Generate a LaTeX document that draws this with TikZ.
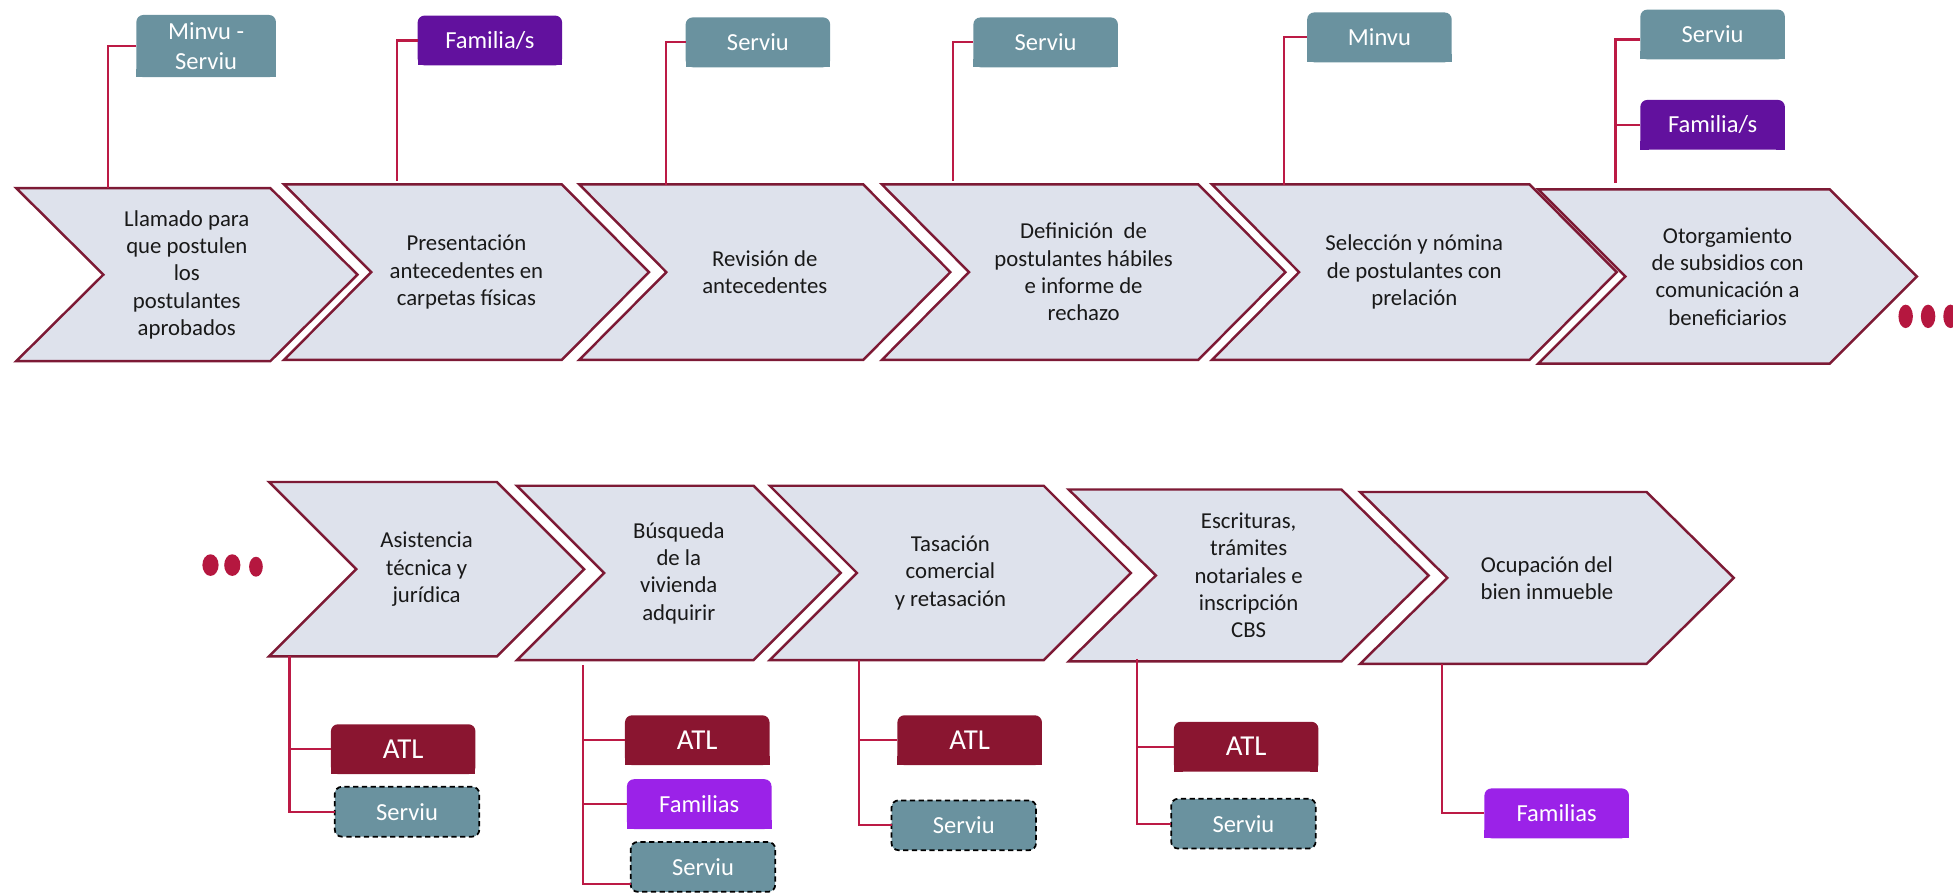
\documentclass[tikz,border=0pt]{standalone}
\usepackage{fontspec}
\setmainfont{Carlito}
\usepackage{tikz}
\usetikzlibrary{calc}
\definecolor{stepfill}{HTML}{DEE2EC}
\definecolor{stepline}{HTML}{7D1A35}
\definecolor{linkred}{HTML}{BC1A45}
\definecolor{tealbox}{HTML}{6A929F}
\definecolor{darkpurple}{HTML}{62119E}
\definecolor{brightpurple}{HTML}{9B22E8}
\definecolor{atlred}{HTML}{8A1530}
\definecolor{dotred}{HTML}{B5173F}
\tikzset{
	chevron/.style={fill=stepfill, draw=stepline, line width=1.4pt, line join=miter},
	steptext/.style={align=center, font=\fontsize{13}{15.6}\selectfont, text=black!90},
	tag/.style={fill=#1, rounded corners=4pt, text=white, align=center, minimum width=2.9cm, minimum height=1cm, inner sep=0pt, outer sep=0pt, font=\fontsize{14}{17}\selectfont},
	dashtag/.style={tag=tealbox, draw=black, dash pattern=on 3pt off 2pt, line width=1pt},
	link/.style={draw=linkred, line width=1.2pt},
}
\def\chev(#1)(#2,#3,#4,#5)#6{\draw[chevron] (#2,#4) -- (#3,#4) -- ({#3+70},{(#4+#5)/2}) -- (#3,#5) -- (#2,#5) -- ({#2+70},{(#4+#5)/2}) -- cycle;
	\node[steptext] (#1) at ({(#2+70+#3)/2},{(#4+#5)/2}) {#6};}
\def\tagbox(#1)[#2][#3](#4)#5{\node[tag=#2,#3] (#1) at (#4) {#5};
	\fill[#2] (#1.south west) rectangle ++(7,-7);
	\fill[#2] (#1.south east) rectangle ++(-7,-7);}

\begin{document}
\begin{tikzpicture}[x=0.025cm, y=-0.025cm]
		%%%%% START %%%%%
		\useasboundingbox (0,0) rectangle (1568,716.2);
		
		\chev(llamado)(13,217,151,290){Llamado para\\que postulen\\los\\postulantes\\aprobados}
		\chev(presenta)(228,451,148,289){Presentación\\antecedentes en\\carpetas físicas}
		\chev(revision)(465,693,148,289){Revisión de\\antecedentes}
		\chev(definicion)(708,962,148,289){Definición~ de\\postulantes hábiles\\e informe de\\rechazo}
		\chev(seleccion)(973,1228,148,289){Selección y nómina\\de postulantes con\\prelación}
		\chev(otorga)(1235,1469,152,292){Otorgamiento\\de subsidios con\\comunicación a\\beneficiarios}
		
		\tagbox(minser)[tealbox][minimum width=2.8cm, minimum height=1.25cm](165.5,37){Minvu -\\Serviu}
		\tagbox(famtop)[darkpurple][](393.3,32.5){Familia/s}
		\tagbox(servtopa)[tealbox][](608.5,34){Serviu}
		\tagbox(servtopb)[tealbox][](839.5,34){Serviu}
		\tagbox(minvu)[tealbox][](1107.5,30){Minvu}
		\tagbox(servtopc)[tealbox][](1375,27.7){Serviu}
		\tagbox(famtopb)[darkpurple][](1375,100.2){Familia/s}
		
		\coordinate (k1) at (87,151);
		\coordinate (k2) at (319,145.3);
		\coordinate (k3) at (535,148.5);
		\coordinate (k4) at (765.4,145);
		\coordinate (k5) at (1031,148.5);
		\coordinate (k6) at (1297,147);
		\draw[link] (minser.west) -| (k1);
		\draw[link] (famtop.west) -| (k2);
		\draw[link] (servtopa.west) -| (k3);
		\draw[link] (servtopb.west) -| (k4);
		\draw[link] (minvu.west) -| (k5);
		\draw[link] ([yshift=-0.1cm]servtopc.west) -| (k6);
		\draw[link] (famtopb.west) -- (famtopb.west -| k6);
		
		\fill[dotred] (1530,254) ellipse (5.8 and 9.4);
		\fill[dotred] (1548,254) ellipse (5.8 and 9.4);
		\fill[dotred] (1566,254) ellipse (5.8 and 9.4);
		
		\fill[dotred] (169,453.7) ellipse (6.5 and 8.7);
		\fill[dotred] (186.5,453.7) ellipse (6.5 and 8.7);
		\fill[dotred] (205.5,455) ellipse (5.5 and 8);
		
		\chev(asistencia)(216,399,387,527){Asistencia\\técnica y\\jurídica}
		\chev(busqueda)(415,605,390,530){Búsqueda\\de la\\vivienda\\adquirir}
		\chev(tasacion)(618,838,390,530){Tasación\\comercial\\y retasación}
		\chev(escrituras)(858,1077,393,531){Escrituras,\\trámites\\notariales e\\inscripción\\CBS}
		\chev(ocupacion)(1092,1322,395,533){Ocupación del\\bien inmueble}
		
		\tagbox(atla)[atlred][](323.7,601.5){\fontsize{16.5}{20}\selectfont ATL}
		\node[dashtag] (serva) at (326.8,651.7) {Serviu};
		\tagbox(atlb)[atlred][](559.8,594.3){\fontsize{16.5}{20}\selectfont ATL}
		\tagbox(famb)[brightpurple][](561.4,645.6){Familias}
		\node[dashtag] (servb) at (564.4,696) {Serviu};
		\tagbox(atlc)[atlred][](778.5,594.3){\fontsize{16.5}{20}\selectfont ATL}
		\node[dashtag] (servc) at (773.8,662.6) {Serviu};
		\tagbox(atld)[atlred][](1000.5,599.5){\fontsize{16.5}{20}\selectfont ATL}
		\node[dashtag] (servd) at (998.3,661.3) {Serviu};
		\tagbox(fame)[brightpurple][](1249.8,653){Familias}
		
		\coordinate (kb1) at (232.4,527);
		\coordinate (kb2) at (468,534);
		\coordinate (kb3) at (689.4,530);
		\coordinate (kb4) at (913,529);
		\coordinate (kb5) at (1158,533);
		\draw[link] (kb1) |- (serva.west);
		\draw[link] (atla.west) -- (atla.west -| kb1);
		\draw[link] (kb2) |- ([yshift=-0.35cm]servb.west);
		\draw[link] (atlb.west) -- (atlb.west -| kb2);
		\draw[link] (famb.west) -- (famb.west -| kb2);
		\draw[link] (kb3) |- (servc.west);
		\draw[link] (atlc.west) -- (atlc.west -| kb3);
		\draw[link] (kb4) |- (servd.west);
		\draw[link] (atld.west) -- (atld.west -| kb4);
		\draw[link] (kb5) |- (fame.west);
		%%%%% END %%%%%
	\end{tikzpicture}
\end{document}
